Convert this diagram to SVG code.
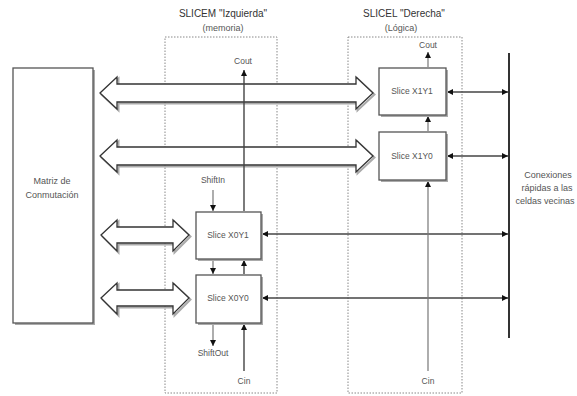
<svg xmlns="http://www.w3.org/2000/svg" width="577" height="396" viewBox="0 0 577 396">
<defs>
<style>
text{font-family:"Liberation Sans",Arial,sans-serif;fill:#555;}
.t{font-size:8.5px;text-anchor:middle;}
.m{font-size:9px;text-anchor:middle;}
.h{font-size:10px;text-anchor:middle;fill:#333;}
.dot{fill:none;stroke:#888;stroke-width:1;stroke-dasharray:1.5 1.5;}
.box{fill:#fff;stroke:#555;stroke-width:1.3;}
.shd{fill:#aaa;}
.big{fill:#fff;stroke:#333;stroke-width:1.3;}
.bigs{fill:none;stroke:#aaa;stroke-width:2;}
.ln{fill:none;stroke:#444;stroke-width:1.4;}
.lnl{fill:none;stroke:#777;stroke-width:1.2;}
</style>
<marker id="ah" viewBox="0 0 6 6" refX="6" refY="3" markerWidth="6" markerHeight="6" markerUnits="userSpaceOnUse" orient="auto-start-reverse">
<path d="M0,0 L6,3 L0,6 z" fill="#111"/>
</marker>
</defs>
<rect width="577" height="396" fill="#fff"/>

<g id="slicem-area">
<rect class="dot" x="165" y="37" width="112" height="356"/>
<text class="h" x="223" y="17">SLICEM "Izquierda"</text>
<text class="m" x="223" y="31">(memoria)</text>
</g>
<g id="slicel-area">
<rect class="dot" x="348" y="37" width="114" height="356"/>
<text class="h" x="404" y="17">SLICEL "Derecha"</text>
<text class="m" x="401" y="31">(Lógica)</text>
</g>

<g id="matriz">
<rect x="15" y="70" width="80" height="255" class="shd"/>
<rect class="box" x="13" y="68" width="80" height="255"/>
<text class="m" x="52" y="184">Matriz de</text>
<text class="m" x="52" y="198">Conmutación</text>
</g>

<g id="connectors">
<polygon class="bigs" transform="translate(1.5,1.5)" points="100,93 117,77 117,84 356,84 356,77 373,93 356,109 356,102 117,102 117,109"/>
<polygon class="big" points="100,93 117,77 117,84 356,84 356,77 373,93 356,109 356,102 117,102 117,109"/>
<polygon class="bigs" transform="translate(1.5,1.5)" points="100,156 117,140 117,147 356,147 356,140 373,156 356,172 356,165 117,165 117,172"/>
<polygon class="big" points="100,156 117,140 117,147 356,147 356,140 373,156 356,172 356,165 117,165 117,172"/>
<polygon class="bigs" transform="translate(1.5,1.5)" points="101,235 117,220 117,227 173,227 173,220 189,235 173,251 173,243 117,243 117,251"/>
<polygon class="big" points="101,235 117,220 117,227 173,227 173,220 189,235 173,251 173,243 117,243 117,251"/>
<polygon class="bigs" transform="translate(1.5,1.5)" points="101,298 117,283 117,290 173,290 173,283 189,298 173,314 173,306 117,306 117,314"/>
<polygon class="big" points="101,298 117,283 117,290 173,290 173,283 189,298 173,314 173,306 117,306 117,314"/>

<line x1="509" y1="53" x2="509" y2="338" stroke="#333" stroke-width="2"/>

<line class="ln" x1="447" y1="92" x2="508" y2="92" marker-start="url(#ah)" marker-end="url(#ah)"/>
<line class="ln" x1="447" y1="156" x2="508" y2="156" marker-start="url(#ah)" marker-end="url(#ah)"/>
<line class="ln" x1="262" y1="234" x2="508" y2="234" marker-start="url(#ah)" marker-end="url(#ah)"/>
<line class="ln" x1="262" y1="298" x2="508" y2="298" marker-start="url(#ah)" marker-end="url(#ah)"/>

<line class="ln" x1="244" y1="211" x2="244" y2="70" marker-end="url(#ah)"/>
<line class="lnl" x1="213" y1="190" x2="213" y2="211" marker-end="url(#ah)"/>
<line class="lnl" x1="213" y1="260" x2="213" y2="274" marker-end="url(#ah)"/>
<line class="ln" x1="244" y1="274" x2="244" y2="260" marker-end="url(#ah)"/>
<line class="lnl" x1="213" y1="324" x2="213" y2="346" marker-end="url(#ah)"/>
<line class="ln" x1="244" y1="371" x2="244" y2="324" marker-end="url(#ah)"/>

<line class="lnl" x1="428" y1="67" x2="428" y2="52" marker-end="url(#ah)"/>
<line class="lnl" x1="428" y1="131" x2="428" y2="116" marker-end="url(#ah)"/>
<line class="lnl" x1="428" y1="371" x2="428" y2="181" marker-end="url(#ah)"/>
</g>

<g id="slice-x1y1">
<rect class="shd" x="381" y="70" width="67" height="47"/>
<rect class="box" x="379" y="68" width="67" height="47"/>
<text class="t" x="412" y="94">Slice X1Y1</text>
</g>
<g id="slice-x1y0">
<rect class="shd" x="381" y="134" width="67" height="48"/>
<rect class="box" x="379" y="132" width="67" height="48"/>
<text class="t" x="412" y="159">Slice X1Y0</text>
</g>
<g id="slice-x0y1">
<rect class="shd" x="198" y="214" width="65" height="47"/>
<rect class="box" x="196" y="212" width="65" height="47"/>
<text class="t" x="228" y="238">Slice X0Y1</text>
</g>
<g id="slice-x0y0">
<rect class="shd" x="198" y="277" width="65" height="48"/>
<rect class="box" x="196" y="275" width="65" height="48"/>
<text class="t" x="228" y="301">Slice X0Y0</text>
</g>

<g id="labels">
<text class="t" x="243" y="64">Cout</text>
<text class="t" x="213" y="183">ShiftIn</text>
<text class="t" x="213" y="356">ShiftOut</text>
<text class="t" x="244" y="384">Cin</text>
<text class="t" x="428" y="48">Cout</text>
<text class="t" x="428" y="384">Cin</text>
<text class="m" x="548" y="178">Conexiones</text>
<text class="m" x="547" y="191">rápidas a las</text>
<text class="m" x="545" y="204">celdas vecinas</text>
</g>
</svg>
